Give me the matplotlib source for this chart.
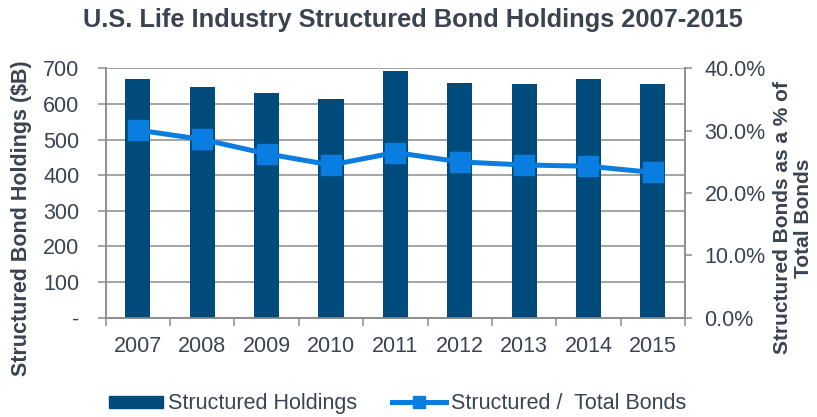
import matplotlib
matplotlib.use("Agg")
import matplotlib.pyplot as plt
from matplotlib.patches import Patch
from matplotlib.lines import Line2D
import numpy as np

plt.rcParams['font.family'] = ['Liberation Sans', 'DejaVu Sans']

years = ["2007", "2008", "2009", "2010", "2011", "2012", "2013", "2014", "2015"]
holdings = [670, 649, 630, 613, 692, 658, 657, 671, 655]          # $B
pct_of_total = [30.1, 28.6, 26.3, 24.5, 26.5, 25.0, 24.5, 24.3, 23.3]  # %

left_ticks = [0, 100, 200, 300, 400, 500, 600, 700]
left_labels = ["-", "100", "200", "300", "400", "500", "600", "700"]
right_ticks = [0, 10, 20, 30, 40]
right_labels = ["0.0%", "10.0%", "20.0%", "30.0%", "40.0%"]

bar_col = "#004a7c"
line_col = "#0a7ee0"
txt_col = "#3a4350"
grid_col = "#8c8c8c"
fs = 15.5

fig = plt.figure(figsize=(8.17, 4.17), dpi=100)
ax = fig.add_axes([0.1294, 0.2381, 0.709, 0.598])
ax2 = ax.twinx()

x = np.arange(len(years))
ax.bar(x, holdings, width=0.39, color=bar_col, zorder=3)
ax.set_xlim(-0.5, len(years) - 0.5)
ax.set_ylim(0, 700)
ax.set_yticks(left_ticks)
ax.set_yticklabels(left_labels)
ax.yaxis.grid(True, color=grid_col, linewidth=1.1, zorder=0)
ax.set_axisbelow(True)

# year labels at bar centres, tick marks between categories
ax.set_xticks(x)
ax.set_xticklabels(years)
ax.set_xticks(np.arange(-0.5, len(years)), minor=True)
ax.tick_params(axis="x", which="major", length=0, pad=13, labelsize=fs, labelcolor=txt_col)
ax.tick_params(axis="x", which="minor", length=6, width=1.1, color=grid_col, direction="out")
ax.tick_params(axis="y", length=6, width=1.1, color=grid_col, pad=13, labelsize=fs, labelcolor=txt_col)

ax2.plot(x, pct_of_total, color=line_col, linewidth=3.6, marker="s", markersize=14,
         markeredgecolor=line_col, zorder=4)
ax2.set_ylim(0, 40)
ax2.set_yticks(right_ticks)
ax2.set_yticklabels(right_labels)
ax2.tick_params(axis="y", length=5, width=1.1, color=grid_col, pad=9, labelsize=fs, labelcolor=txt_col)

for a in (ax, ax2):
    for s in a.spines.values():
        s.set_color(grid_col)
        s.set_linewidth(1.1)
    a.spines["top"].set_visible(False)

ax.set_ylabel("Structured Bond Holdings ($B)", fontsize=fs, fontweight="bold", color=txt_col)
ax.yaxis.set_label_coords(-0.127, 0.40)
ax2.set_ylabel("Structured Bonds as a % of\nTotal Bonds", fontsize=15, fontweight="bold",
               color=txt_col, linespacing=1.1)
ax2.yaxis.set_label_coords(1.152, 0.40)

fig.suptitle("U.S. Life Industry Structured Bond Holdings 2007-2015", x=0.506, y=0.98,
             fontsize=18.3, fontweight="bold", color=txt_col)

handles = [Patch(facecolor=bar_col, edgecolor=bar_col),
           Line2D([], [], color=line_col, linewidth=3.6, marker="s", markersize=8)]
fig.legend(handles, ["Structured Holdings", "Structured /  Total Bonds"], loc="lower center",
           bbox_to_anchor=(0.487, -0.04), ncol=2, frameon=False, fontsize=fs, labelcolor=txt_col,
           handlelength=2.5, handleheight=0.5, handletextpad=0.25, columnspacing=1.6)

fig.savefig("out.png", dpi=100)
